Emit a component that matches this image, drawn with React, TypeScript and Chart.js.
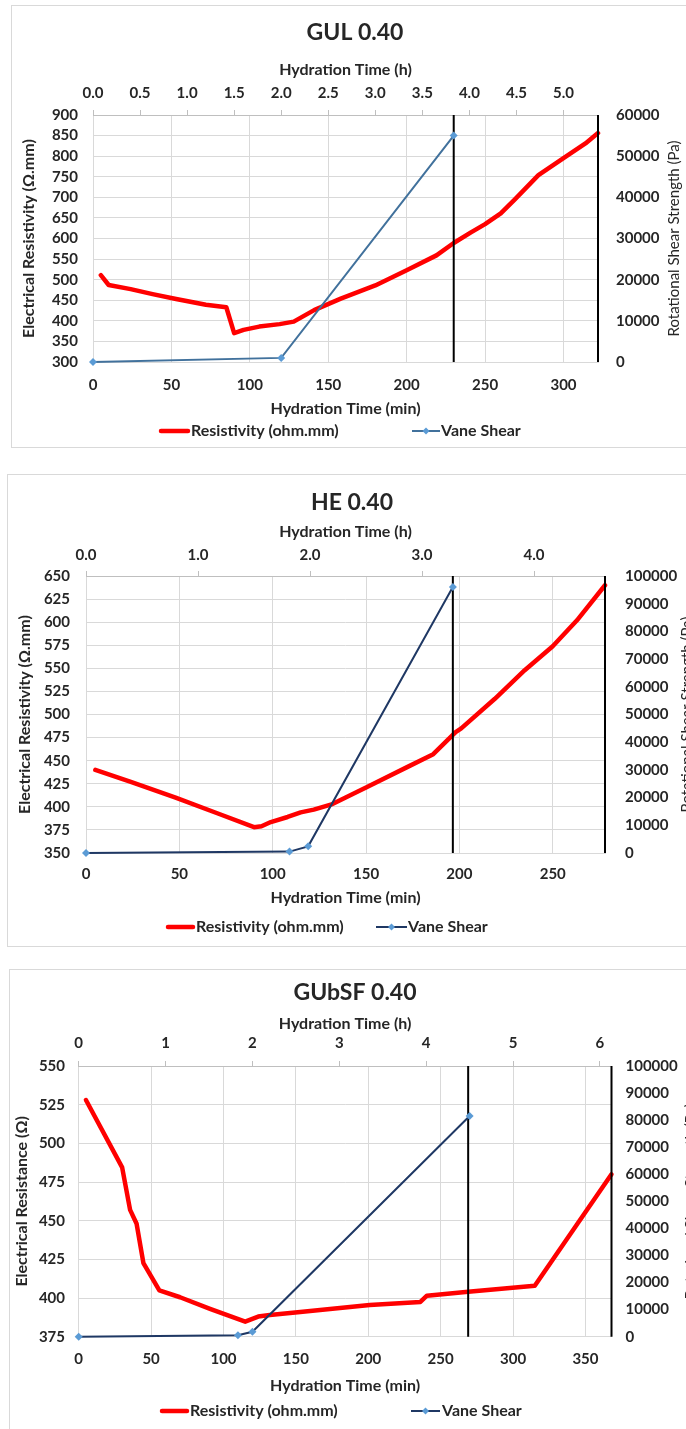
import React, { useEffect, useRef } from 'react';
import { Chart, registerables } from 'chart.js';

Chart.register(...registerables);

const FONT = 'Lato';
const TEXT = '#262626';
const GRID = '#d9d9d9';
const AXIS = '#bfbfbf';
const RED = '#FF0000';
const MARKER_FILL = '#5B9BD5';

// ---------------- GUL 0.40 ----------------
const gulResTime = [5, 10, 24, 38, 53, 72, 85, 90, 96, 106, 119, 128, 141, 158, 180, 200, 219, 230, 241, 250, 260, 269, 284, 300, 314, 322];
const gulRes = [511, 487, 477, 465, 453, 439, 433, 370, 378, 386, 392, 398, 426, 454, 486, 523, 559, 589, 615, 635, 661, 695, 754, 795, 831, 856];
const gulVaneTime = [0, 120, 230];
const gulVane = [0, 1000, 55000];
const gulMarkers = [230, 322];
const gulTimeRange = [0, 322, 50];
const gulHourTicks = [0.5, 1];
const gulLeftRange = [300, 900, 50];
const gulRightRange = [0, 60000, 10000];

// ---------------- HE 0.40 ----------------
const heResTime = [5, 24, 48, 71, 90, 94, 99, 108, 115, 122, 132, 150, 172, 186, 198, 201, 219, 235, 250, 263, 278];
const heRes = [440, 427, 410, 392.5, 378, 379, 383.5, 389, 394, 397, 403, 421, 443, 457, 481, 485, 517, 548, 574, 602, 640];
const heVaneTime = [0, 109, 119, 196.5];
const heVane = [0, 500, 2400, 96000];
const heMarkers = [196.5, 278];
const heTimeRange = [0, 278, 50];
const heHourTicks = [1, 1];
const heLeftRange = [350, 650, 25];
const heRightRange = [0, 100000, 10000];

// ---------------- GUbSF 0.40 ----------------
const gusfResTime = [5, 30, 35.5, 40, 44.7, 55.7, 70, 90.7, 115, 124, 132, 153, 201, 236, 240.5, 269, 315, 368];
const gusfRes = [528, 484.5, 457, 448, 422.5, 405, 400.5, 393, 384.7, 388, 389, 391, 395.5, 397.5, 401.5, 404, 408, 480];
const gusfVaneTime = [0, 110, 120, 270];
const gusfVane = [0, 500, 1800, 81500];
const gusfMarkers = [269, 368];
const gusfTimeRange = [0, 368, 50];
const gusfHourTicks = [1, 0];
const gusfLeftRange = [375, 550, 25];
const gusfRightRange = [0, 100000, 10000];

const legendLabels = ['Resistivity (ohm.mm)', 'Vane Shear'];
const topAxisTitle = 'Hydration Time (h)';
const bottomAxisTitle = 'Hydration Time (min)';
const rightAxisTitle = 'Rotational Shear Strength (Pa)';

type Panel = {
  key: string;
  title: string;
  leftTitle: string;
  resTime: number[];
  res: number[];
  vaneTime: number[];
  vane: number[];
  markers: number[];
  timeRange: number[];
  hourTicks: number[];
  leftRange: number[];
  rightRange: number[];
  vaneColor: string;
  box: { left: number; top: number; width: number; height: number };
  axes: { y: number; y2: number; x2: number; x: number };
  pad: { x: number; x2: number; y: number; y2: number };
  t: {
    titleY: number; topTitleY: number; bottomTitleY: number;
    leftTitleX: number; rightTitleX: number; legendY: number;
    red: number[]; blue: number[]; redText: number; blueText: number;
  };
};

const panels: Panel[] = [
  {
    key: 'gul', title: 'GUL 0.40', leftTitle: 'Electrical Resistivity (Ω.mm)',
    resTime: gulResTime, res: gulRes, vaneTime: gulVaneTime, vane: gulVane, markers: gulMarkers,
    timeRange: gulTimeRange, hourTicks: gulHourTicks, leftRange: gulLeftRange, rightRange: gulRightRange,
    vaneColor: '#41719C',
    box: { left: 11, top: 5, width: 688, height: 443 },
    axes: { y: 82, y2: 101, x2: 110, x: 86 },
    pad: { x: 14, x2: 8, y: 15, y2: 18 },
    t: { titleY: 28, topTitleY: 65, bottomTitleY: 404, leftTitleX: 17.5, rightTitleX: 663, legendY: 426,
      red: [148, 179], blue: [401, 429], redText: 180, blueText: 430 },
  },
  {
    key: 'he', title: 'HE 0.40', leftTitle: 'Electrical Resistivity (Ω.mm)',
    resTime: heResTime, res: heRes, vaneTime: heVaneTime, vane: heVane, markers: heMarkers,
    timeRange: heTimeRange, hourTicks: heHourTicks, leftRange: heLeftRange, rightRange: heRightRange,
    vaneColor: '#1F3864',
    box: { left: 7, top: 474, width: 690, height: 473 },
    axes: { y: 79, y2: 92, x2: 102, x: 94 },
    pad: { x: 12, x2: 7, y: 16, y2: 20 },
    t: { titleY: 29, topTitleY: 58, bottomTitleY: 424, leftTitleX: 18, rightTitleX: 680, legendY: 453,
      red: [159, 188], blue: [369, 400], redText: 189, blueText: 401 },
  },
  {
    key: 'gusf', title: 'GUbSF 0.40', leftTitle: 'Electrical Resistance (Ω)',
    resTime: gusfResTime, res: gusfRes, vaneTime: gusfVaneTime, vane: gusfVane, markers: gusfMarkers,
    timeRange: gusfTimeRange, hourTicks: gusfHourTicks, leftRange: gusfLeftRange, rightRange: gusfRightRange,
    vaneColor: '#1F3864',
    box: { left: 9, top: 969, width: 692, height: 470 },
    axes: { y: 69.7, y2: 89.5, x2: 97, x: 102.3 },
    pad: { x: 13.6, x2: 9, y: 13.7, y2: 14 },
    t: { titleY: 24, topTitleY: 55, bottomTitleY: 417, leftTitleX: 13, rightTitleX: 682, legendY: 442,
      red: [151, 180], blue: [402, 431], redText: 181, blueText: 433 },
  },
];

const tickFont = { family: FONT, size: 15, weight: 'bold' as const };
const plainNumber = (v: any) => String(v);

function keepMultiples(step: number) {
  return (s: any) => {
    s.ticks = s.ticks.filter((tk: any) => Math.abs(tk.value / step - Math.round(tk.value / step)) < 1e-6);
  };
}

function drawDiamond(ctx: CanvasRenderingContext2D, x: number, y: number, r: number) {
  ctx.beginPath();
  ctx.moveTo(x, y - r);
  ctx.lineTo(x + r, y);
  ctx.lineTo(x, y + r);
  ctx.lineTo(x - r, y);
  ctx.closePath();
  ctx.fill();
}

function decorPlugin(p: Panel) {
  return {
    id: 'decor_' + p.key,
    afterDraw(chart: any) {
      const ctx: CanvasRenderingContext2D = chart.ctx;
      const a = chart.chartArea;
      const cx = (a.left + a.right) / 2;
      const cy = (a.top + a.bottom) / 2;
      ctx.save();
      ctx.fillStyle = TEXT;
      ctx.textAlign = 'center';
      ctx.textBaseline = 'middle';
      ctx.font = `bold 23px ${FONT}`;
      ctx.fillText(p.title, chart.width / 2, p.t.titleY);
      ctx.font = `bold 16px ${FONT}`;
      ctx.fillText(topAxisTitle, cx, p.t.topTitleY);
      ctx.fillText(bottomAxisTitle, cx, p.t.bottomTitleY);
      ctx.save();
      ctx.translate(p.t.leftTitleX, cy);
      ctx.rotate(-Math.PI / 2);
      ctx.fillText(p.leftTitle, 0, 0);
      ctx.restore();
      ctx.save();
      ctx.font = `15px ${FONT}`;
      ctx.translate(p.t.rightTitleX, cy);
      ctx.rotate(-Math.PI / 2);
      ctx.fillText(rightAxisTitle, 0, 0);
      ctx.restore();

      // legend
      const ly = p.t.legendY;
      ctx.lineCap = 'round';
      ctx.strokeStyle = RED;
      ctx.lineWidth = 4.5;
      ctx.beginPath();
      ctx.moveTo(p.t.red[0] + 2, ly);
      ctx.lineTo(p.t.red[1] - 2, ly);
      ctx.stroke();
      ctx.lineCap = 'butt';
      ctx.strokeStyle = p.vaneColor;
      ctx.lineWidth = 2;
      ctx.beginPath();
      ctx.moveTo(p.t.blue[0], ly);
      ctx.lineTo(p.t.blue[1], ly);
      ctx.stroke();
      ctx.fillStyle = MARKER_FILL;
      drawDiamond(ctx, (p.t.blue[0] + p.t.blue[1]) / 2, ly, 3.5);
      ctx.fillStyle = TEXT;
      ctx.textAlign = 'left';
      ctx.font = `bold 16px ${FONT}`;
      ctx.fillText(legendLabels[0], p.t.redText, ly);
      ctx.fillText(legendLabels[1], p.t.blueText, ly);
      ctx.restore();
    },
  };
}

function buildConfig(p: Panel): any {
  const [xMin, xMax, xStep] = p.timeRange;
  const [hStep, hDec] = p.hourTicks;
  const [lMin, lMax, lStep] = p.leftRange;
  const [rMin, rMax, rStep] = p.rightRange;

  const datasets: any[] = [
    {
      label: legendLabels[1],
      data: p.vaneTime.map((t, i) => ({ x: t, y: p.vane[i] })),
      xAxisID: 'x', yAxisID: 'y2',
      borderColor: p.vaneColor, borderWidth: 2,
      pointStyle: 'rectRot', pointRadius: 4,
      pointBackgroundColor: MARKER_FILL, pointBorderColor: MARKER_FILL, pointBorderWidth: 0,
      tension: 0, clip: 6,
    },
    ...p.markers.map((m) => ({
      label: 'marker',
      data: [{ x: m, y: lMin }, { x: m, y: lMax }],
      xAxisID: 'x', yAxisID: 'y',
      borderColor: '#000000', borderWidth: 2, pointRadius: 0, clip: 2,
    })),
    {
      label: legendLabels[0],
      data: p.resTime.map((t, i) => ({ x: t, y: p.res[i] })),
      xAxisID: 'x', yAxisID: 'y',
      borderColor: RED, borderWidth: 4.5, pointRadius: 0,
      borderJoinStyle: 'round', borderCapStyle: 'round', tension: 0, clip: 3,
    },
  ];

  return {
    type: 'line',
    data: { datasets },
    plugins: [decorPlugin(p)],
    options: {
      responsive: false,
      animation: false,
      devicePixelRatio: 1,
      events: [],
      layout: { padding: 0 },
      plugins: { legend: { display: false }, title: { display: false }, tooltip: { enabled: false } },
      scales: {
        x: {
          type: 'linear', position: 'bottom', min: xMin, max: xMax,
          ticks: { stepSize: xStep, includeBounds: false, padding: p.pad.x, font: tickFont, color: TEXT, maxRotation: 0, autoSkip: false, callback: plainNumber },
          afterBuildTicks: keepMultiples(xStep),
          grid: { color: GRID, drawTicks: false },
          border: { display: true, color: GRID },
          title: { display: false },
          afterFit: (s: any) => { s.height = p.axes.x; },
        },
        x2: {
          type: 'linear', position: 'top', min: xMin / 60, max: xMax / 60,
          ticks: {
            stepSize: hStep, includeBounds: false, padding: p.pad.x2, font: tickFont, color: TEXT, maxRotation: 0, autoSkip: false,
            callback: (v: any) => Number(v).toFixed(hDec),
          },
          afterBuildTicks: keepMultiples(hStep),
          grid: { drawOnChartArea: false, drawTicks: true, tickLength: 5, color: AXIS },
          border: { display: true, color: AXIS },
          afterFit: (s: any) => { s.height = p.axes.x2; },
        },
        y: {
          type: 'linear', position: 'left', min: lMin, max: lMax,
          ticks: { stepSize: lStep, padding: p.pad.y, font: tickFont, color: TEXT, autoSkip: false, callback: plainNumber },
          grid: { color: GRID, drawTicks: false },
          border: { display: false },
          afterFit: (s: any) => { s.width = p.axes.y; },
        },
        y2: {
          type: 'linear', position: 'right', min: rMin, max: rMax,
          ticks: { stepSize: rStep, padding: p.pad.y2, font: tickFont, color: TEXT, autoSkip: false, callback: plainNumber },
          grid: { drawOnChartArea: false, drawTicks: false },
          border: { display: false },
          afterFit: (s: any) => { s.width = p.axes.y2; },
        },
      },
    },
  };
}

function ChartPanel({ p }: { p: Panel }) {
  const ref = useRef<HTMLCanvasElement | null>(null);
  useEffect(() => {
    if (!ref.current) return;
    const chart = new Chart(ref.current, buildConfig(p));
    return () => chart.destroy();
  }, [p]);
  const { left, top, width, height } = p.box;
  return (
    <>
      <div
        style={{
          position: 'absolute', left, top, width, height,
          border: `1px solid ${GRID}`, boxSizing: 'border-box', background: '#ffffff',
        }}
      />
      <canvas
        ref={ref}
        width={width}
        height={height}
        style={{ position: 'absolute', left, top, width, height }}
      />
    </>
  );
}

export default function App() {
  return (
    <div
      style={{
        position: 'fixed', left: 0, top: 0, width: 686, height: 1429,
        overflow: 'hidden', background: '#ffffff',
      }}
    >
      {panels.map((p) => (
        <ChartPanel key={p.key} p={p} />
      ))}
    </div>
  );
}
